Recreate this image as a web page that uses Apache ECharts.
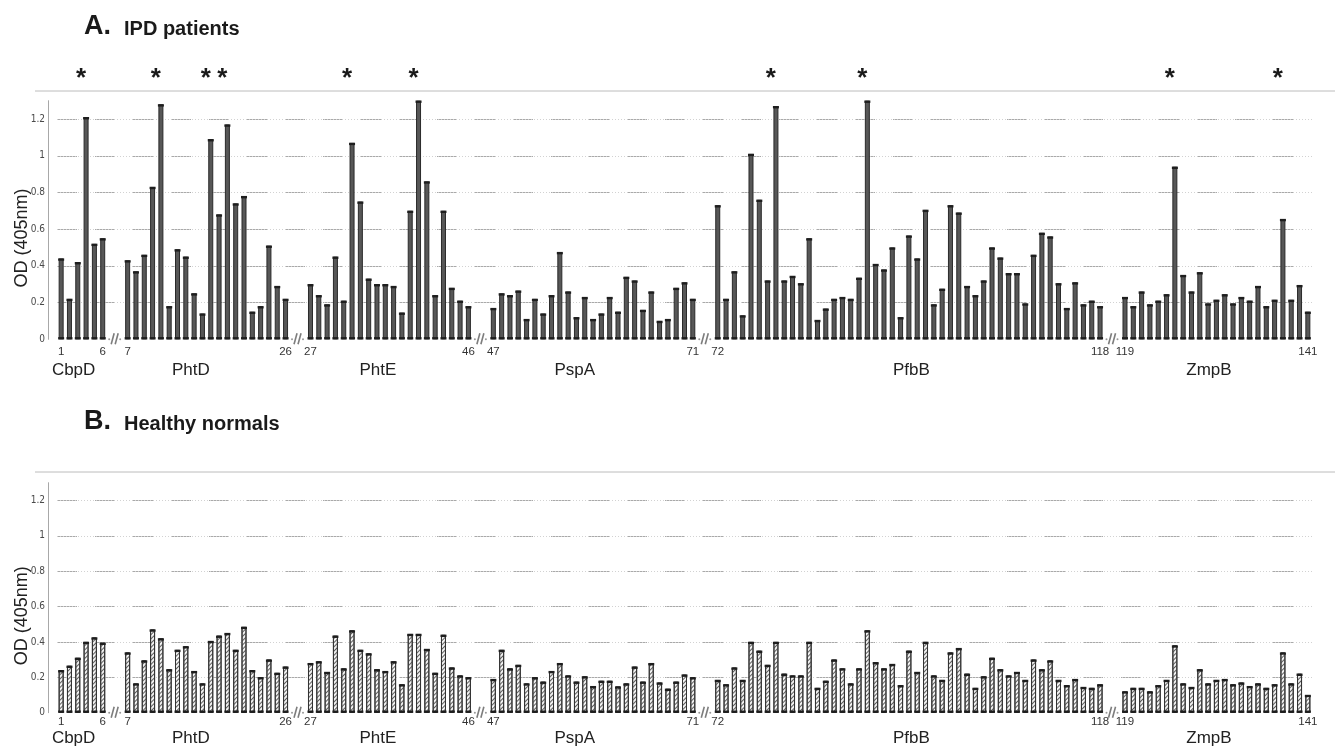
<!DOCTYPE html>
<html>
<head>
<meta charset="utf-8">
<script src="https://cdn.jsdelivr.net/npm/echarts@6/dist/echarts.min.js"></script>
<style>
  html, body { margin: 0; padding: 0; background: #fff; }
  #chart { width: 1335px; height: 749px; }
</style>
</head>
<body>
<div id="chart"></div>
<script>
// Antigens and how many peptides belong to each
const groupNames = ['CbpD', 'PhtD', 'PhtE', 'PspA', 'PfbB', 'ZmpB'];
const groupSizes = [6, 20, 20, 25, 47, 23];

// OD (405nm), peptides 1..141, IPD patient sera
const ipdPatients = [
  0.44, 0.22, 0.42, 1.21, 0.52, 0.55,
  0.43, 0.37, 0.46, 0.83, 1.28, 0.18, 0.49, 0.45, 0.25, 0.14, 1.09, 0.68, 1.17, 0.74,
  0.78, 0.15, 0.18, 0.51, 0.29, 0.22,
  0.30, 0.24, 0.19, 0.45, 0.21, 1.07, 0.75, 0.33, 0.30, 0.30, 0.29, 0.145, 0.70, 1.30,
  0.86, 0.24, 0.70, 0.28, 0.21, 0.18,
  0.17, 0.25, 0.24, 0.265, 0.11, 0.22, 0.14, 0.24, 0.475, 0.26, 0.12, 0.23, 0.11, 0.14,
  0.23, 0.15, 0.34, 0.32, 0.16, 0.26, 0.10, 0.11, 0.28, 0.31, 0.22,
  0.73, 0.22, 0.37, 0.13, 1.01, 0.76, 0.32, 1.27, 0.32, 0.345, 0.305, 0.55, 0.105, 0.167,
  0.22, 0.23, 0.22, 0.335, 1.30, 0.41, 0.38, 0.50, 0.12, 0.565, 0.44, 0.705, 0.19, 0.275,
  0.73, 0.69, 0.29, 0.24, 0.32, 0.50, 0.445, 0.36, 0.36, 0.195, 0.46, 0.58, 0.56, 0.305,
  0.17, 0.31, 0.19, 0.21, 0.18,
  0.23, 0.18, 0.26, 0.19, 0.21, 0.245, 0.94, 0.35, 0.26, 0.365, 0.195, 0.215, 0.245, 0.195,
  0.23, 0.21, 0.29, 0.18, 0.215, 0.655, 0.215, 0.295, 0.15
];

// OD (405nm), peptides 1..141, healthy donor sera
const healthyNormals = [
  0.24, 0.265, 0.31, 0.40, 0.425, 0.395,
  0.34, 0.165, 0.295, 0.47, 0.42, 0.245, 0.355, 0.375, 0.235, 0.165, 0.405, 0.435, 0.45, 0.355,
  0.485, 0.24, 0.20, 0.30, 0.225, 0.26,
  0.28, 0.29, 0.23, 0.435, 0.25, 0.465, 0.355, 0.335, 0.245, 0.235, 0.29, 0.16, 0.445, 0.445,
  0.36, 0.225, 0.44, 0.255, 0.21, 0.20,
  0.19, 0.355, 0.25, 0.27, 0.165, 0.20, 0.175, 0.235, 0.28, 0.21, 0.175, 0.205, 0.15, 0.18,
  0.18, 0.148, 0.165, 0.26, 0.175, 0.28, 0.17, 0.135, 0.175, 0.215, 0.20,
  0.185, 0.16, 0.255, 0.185, 0.40, 0.35, 0.27, 0.40, 0.22, 0.21, 0.21, 0.40, 0.14, 0.18,
  0.30, 0.25, 0.165, 0.25, 0.465, 0.285, 0.25, 0.275, 0.155, 0.35, 0.23, 0.40, 0.21, 0.185,
  0.34, 0.365, 0.22, 0.14, 0.205, 0.31, 0.245, 0.21, 0.23, 0.185, 0.30, 0.245, 0.295, 0.185,
  0.155, 0.19, 0.145, 0.14, 0.16,
  0.12, 0.14, 0.14, 0.12, 0.155, 0.185, 0.38, 0.165, 0.145, 0.245, 0.165, 0.185, 0.19, 0.16,
  0.17, 0.15, 0.165, 0.14, 0.16, 0.34, 0.165, 0.22, 0.10
];

// Peptides flagged with an asterisk in panel A
const starredPeptides = [4, 11, 17, 19, 32, 40, 79, 90, 125, 138];

// Panel headings
const panelLetters = ['A.', 'B.'];
const panelTitles = ['IPD patients', 'Healthy normals'];
const yAxisTitle = 'OD (405nm)';

// ---- layout ----
const BREAK_SLOTS = 2;                              // empty slots at each axis break
const groupLabelShift = [-1, -1.9, -1.4, -2.2, 0.3, -0.9]; // nudges of antigen names, in slots
const Y_MAX = 1.3;

// Lay peptides out on a slot axis, leaving room for the break marks
const slotPeptide = [];
const groupSlotRange = [];
const breakStarts = [];
let pep = 0;
groupSizes.forEach((size, g) => {
  const first = slotPeptide.length;
  for (let i = 0; i < size; i++) slotPeptide.push(++pep);
  groupSlotRange.push([first, slotPeptide.length - 1]);
  if (g < groupSizes.length - 1) {
    breakStarts.push(slotPeptide.length);
    for (let k = 0; k < BREAK_SLOTS; k++) slotPeptide.push(null);
  }
});
const slotCount = slotPeptide.length;
const slotOfPeptide = p => slotPeptide.indexOf(p);
const tickText = slotPeptide.map((p, i) => {
  const isEdge = groupSlotRange.some(r => r[0] === i || r[1] === i);
  return isEdge ? String(p) : '';
});
const groupLabelPos = groupSlotRange.map((r, g) => (r[0] + r[1]) / 2 + 0.5 + groupLabelShift[g]);

const chart = echarts.init(document.getElementById('chart'), null, { renderer: 'canvas' });

const grids = [
  { left: 57, top: 100.7, width: 1255, height: 238.6, outerBoundsMode: 'none', containLabel: false },
  { left: 57, top: 482.7, width: 1255, height: 230, outerBoundsMode: 'none', containLabel: false }
];

const FONT = '"Liberation Sans", Arial, sans-serif';

function catAxis(gridIndex, margin) {
  return {
    type: 'category', gridIndex, position: 'bottom', data: slotPeptide.map((p, i) => 's' + i),
    boundaryGap: true,
    axisLine: { show: false, onZero: false }, axisTick: { show: false }, splitLine: { show: false },
    axisLabel: {
      interval: i => tickText[i] !== '',
      formatter: (v, i) => tickText[i],
      fontFamily: FONT, fontSize: 11.5, color: '#333', margin
    }
  };
}
function nameAxis(gridIndex, margin) {
  return {
    type: 'value', gridIndex, position: 'bottom', offset: 0, min: 0, max: slotCount,
    axisLine: { show: false, onZero: false }, axisTick: { show: false }, splitLine: { show: false },
    axisLabel: {
      customValues: groupLabelPos,
      formatter: v => {
        let best = 0;
        groupLabelPos.forEach((p, i) => { if (Math.abs(p - v) < Math.abs(groupLabelPos[best] - v)) best = i; });
        return groupNames[best];
      },
      fontFamily: FONT, fontSize: 17, color: '#222', margin
    }
  };
}
function mainY(gridIndex) {
  return {
    type: 'value', gridIndex, min: 0, max: Y_MAX, interval: 0.2, position: 'left', offset: 9,
    name: yAxisTitle, nameLocation: 'middle', nameGap: 17, nameMoveOverlap: false,
    nameTextStyle: { fontFamily: FONT, fontSize: 18, color: '#222', padding: [0, 36, 0, 0] },
    axisLine: { show: true, onZero: false, lineStyle: { color: '#a8a8a8', width: 1 } },
    axisTick: { show: false },
    axisLabel: {
      showMaxLabel: false, margin: 3,
      fontFamily: '"Liberation Sans Narrow", "DejaVu Sans Condensed", ' + FONT,
      fontSize: 10, color: '#4a4a4a'
    },
    splitLine: {
      show: true, showMinLine: false, showMaxLine: false,
      lineStyle: { color: '#a9a9a9', width: 1, type: [20, 18] }
    }
  };
}
function dottedY(gridIndex) {
  return {
    type: 'value', gridIndex, min: 0, max: Y_MAX, interval: 0.2, position: 'left',
    axisLine: { show: false, onZero: false }, axisTick: { show: false }, axisLabel: { show: false },
    splitLine: {
      show: true, showMinLine: false, showMaxLine: false,
      lineStyle: { color: '#d2d2d2', width: 1, type: [1, 2] }
    }
  };
}

function barData(values) {
  return slotPeptide.map(p => (p === null ? '-' : values[p - 1]));
}
function capData(values, atZero) {
  return slotPeptide.map((p, i) => (p === null ? null : [i, atZero ? 0 : values[p - 1]])).filter(Boolean);
}

function breakSeries(xAxisIndex, yAxisIndex) {
  return {
    type: 'custom', xAxisIndex, yAxisIndex, clip: false, silent: true, z: 5,
    data: breakStarts.map(s => [s, 0]),
    renderItem(params, api) {
      const a = api.coord([api.value(0), 0]);
      const b = api.coord([api.value(0) + 1, 0]);
      const cx = (a[0] + b[0]) / 2, cy = a[1];
      const st = { stroke: '#7d7d7d', lineWidth: 1.6 };
      return {
        type: 'group', children: [
          { type: 'line', shape: { x1: cx - 4, y1: cy + 5, x2: cx - 1, y2: cy - 6 }, style: st },
          { type: 'line', shape: { x1: cx, y1: cy + 5, x2: cx + 3, y2: cy - 6 }, style: st },
          { type: 'circle', shape: { cx: cx - 6, cy: cy, r: 1 }, style: { fill: '#999' } },
          { type: 'circle', shape: { cx: cx + 5, cy: cy, r: 1 }, style: { fill: '#999' } }
        ]
      };
    }
  };
}

function capSeries(values, xAxisIndex, yAxisIndex, atZero) {
  return {
    type: 'scatter', xAxisIndex, yAxisIndex, silent: true, z: 4,
    symbol: 'rect', symbolSize: [6, 2.4], symbolOffset: [0, atZero ? -1 : 1],
    itemStyle: { color: '#1e1e1e', opacity: 1 },
    data: capData(values, atZero)
  };
}

const option = {
  animation: false,
  backgroundColor: '#ffffff',
  grid: grids,
  xAxis: [catAxis(0, 7), nameAxis(0, 23), catAxis(1, 3), nameAxis(1, 17)],
  yAxis: [mainY(0), dottedY(0), mainY(1), dottedY(1)],
  graphic: [
    { type: 'line', shape: { x1: 35, y1: 91, x2: 1335, y2: 91 }, style: { stroke: '#bcbcbc', lineWidth: 1 } },
    { type: 'line', shape: { x1: 35, y1: 472, x2: 1335, y2: 472 }, style: { stroke: '#bcbcbc', lineWidth: 1 } },
    { type: 'text', x: 84, y: 40, style: { text: panelLetters[0], font: 'bold 27px ' + FONT, fill: '#1a1a1a', verticalAlign: 'bottom' } },
    { type: 'text', x: 124, y: 39, style: { text: panelTitles[0], font: 'bold 20px ' + FONT, fill: '#1a1a1a', verticalAlign: 'bottom' } },
    { type: 'text', x: 84, y: 435, style: { text: panelLetters[1], font: 'bold 27px ' + FONT, fill: '#1a1a1a', verticalAlign: 'bottom' } },
    { type: 'text', x: 124, y: 434, style: { text: panelTitles[1], font: 'bold 20px ' + FONT, fill: '#1a1a1a', verticalAlign: 'bottom' } }
  ],
  series: [
    {
      name: panelTitles[0], type: 'bar', xAxisIndex: 0, yAxisIndex: 0,
      barWidth: 5, z: 3,
      itemStyle: { color: '#575757', borderColor: '#2a2a2a', borderWidth: 1 },
      data: barData(ipdPatients)
    },
    capSeries(ipdPatients, 0, 0, false),
    capSeries(ipdPatients, 0, 0, true),
    breakSeries(0, 0),
    {
      type: 'custom', xAxisIndex: 0, yAxisIndex: 0, clip: false, silent: true,
      data: starredPeptides.map(p => [slotOfPeptide(p), Y_MAX]),
      renderItem(params, api) {
        const pt = api.coord([api.value(0), api.value(1)]);
        return {
          type: 'text', x: pt[0] - 5, y: pt[1] - 22,
          style: { text: '*', font: 'bold 26px ' + FONT, fill: '#1a1a1a', align: 'center', verticalAlign: 'middle' }
        };
      }
    },
    {
      name: panelTitles[1], type: 'bar', xAxisIndex: 2, yAxisIndex: 2,
      barWidth: 5, z: 3,
      itemStyle: {
        color: '#f2f2f2', borderColor: '#333', borderWidth: 1,
        decal: {
          symbol: 'rect', symbolSize: 1, color: '#5e5e5e',
          dashArrayX: [1, 0], dashArrayY: [1, 1.4], rotation: -Math.PI / 4
        }
      },
      data: barData(healthyNormals)
    },
    capSeries(healthyNormals, 2, 2, false),
    capSeries(healthyNormals, 2, 2, true),
    breakSeries(2, 2)
  ]
};

chart.setOption(option);
</script>
</body>
</html>
